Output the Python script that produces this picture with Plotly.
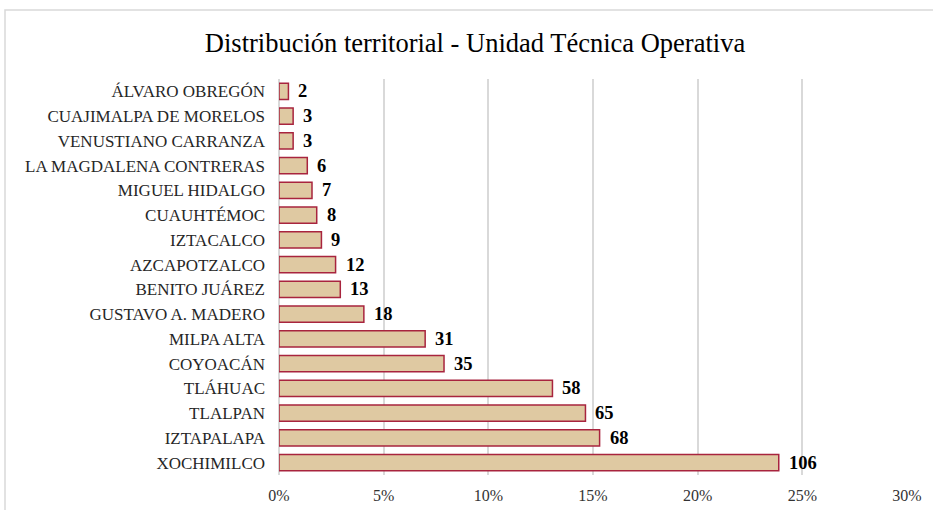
import plotly.graph_objects as go

categories = ["ÁLVARO OBREGÓN", "CUAJIMALPA DE MORELOS", "VENUSTIANO CARRANZA",
              "LA MAGDALENA CONTRERAS", "MIGUEL HIDALGO", "CUAUHTÉMOC", "IZTACALCO",
              "AZCAPOTZALCO", "BENITO JUÁREZ", "GUSTAVO A. MADERO", "MILPA ALTA",
              "COYOACÁN", "TLÁHUAC", "TLALPAN", "IZTAPALAPA", "XOCHIMILCO"]
counts = [2, 3, 3, 6, 7, 8, 9, 12, 13, 18, 31, 35, 58, 65, 68, 106]
tick_vals = [0, 0.05, 0.10, 0.15, 0.20, 0.25, 0.30]
tick_text = ["0%", "5%", "10%", "15%", "20%", "25%", "30%"]

total = sum(counts)
shares = [c / total for c in counts]

serif = "Liberation Serif, Times New Roman, serif"

fig = go.Figure(go.Bar(
    x=shares, y=categories, orientation="h",
    marker=dict(color="#DFC9A2", line=dict(color="#A8243E", width=1.5)),
    width=0.66,
))

for cat, sh, c in zip(categories, shares, counts):
    fig.add_annotation(x=sh, y=cat, text=str(c), showarrow=False,
                       xanchor="left", yanchor="middle", xshift=8, yshift=0,
                       font=dict(family=serif, size=18.5, color="#000000", weight="bold"))

fig.update_layout(
    width=933, height=510,
    margin=dict(l=279, r=26, t=79, b=35),
    paper_bgcolor="white", plot_bgcolor="white",
    showlegend=False,
    title=dict(text="Distribución territorial - Unidad Técnica Operativa",
               x=475 / 933, xref="container", xanchor="center",
               y=1 - 43 / 510, yref="container", yanchor="middle",
               font=dict(family=serif, size=26.5, color="#000000")),
    font=dict(family=serif, color="#262626"),
    xaxis=dict(range=[0, 0.30], tickvals=tick_vals, ticktext=tick_text,
               showgrid=True, gridcolor="#D9D9D9", gridwidth=1.5,
               zeroline=True, zerolinecolor="#D9D9D9", zerolinewidth=1.5,
               showline=False, ticks="", ticklabelstandoff=9, automargin=False,
               tickfont=dict(family=serif, size=16, color="#333333")),
    yaxis=dict(autorange="reversed", showgrid=False, ticks="", ticklabelstandoff=13,
               automargin=False,
               tickfont=dict(family=serif, size=17, color="#262626")),
    shapes=[dict(type="rect", xref="paper", yref="paper",
                 x0=(5 - 279) / 628, x1=1.2, y0=-0.3, y1=(475 - 10) / 396,
                 line=dict(color="#D9D9D9", width=1.5), fillcolor="rgba(0,0,0,0)", layer="below")],
)

fig.write_html("out.html", config={"displayModeBar": False},
               post_script="document.body.style.margin='0px';")
